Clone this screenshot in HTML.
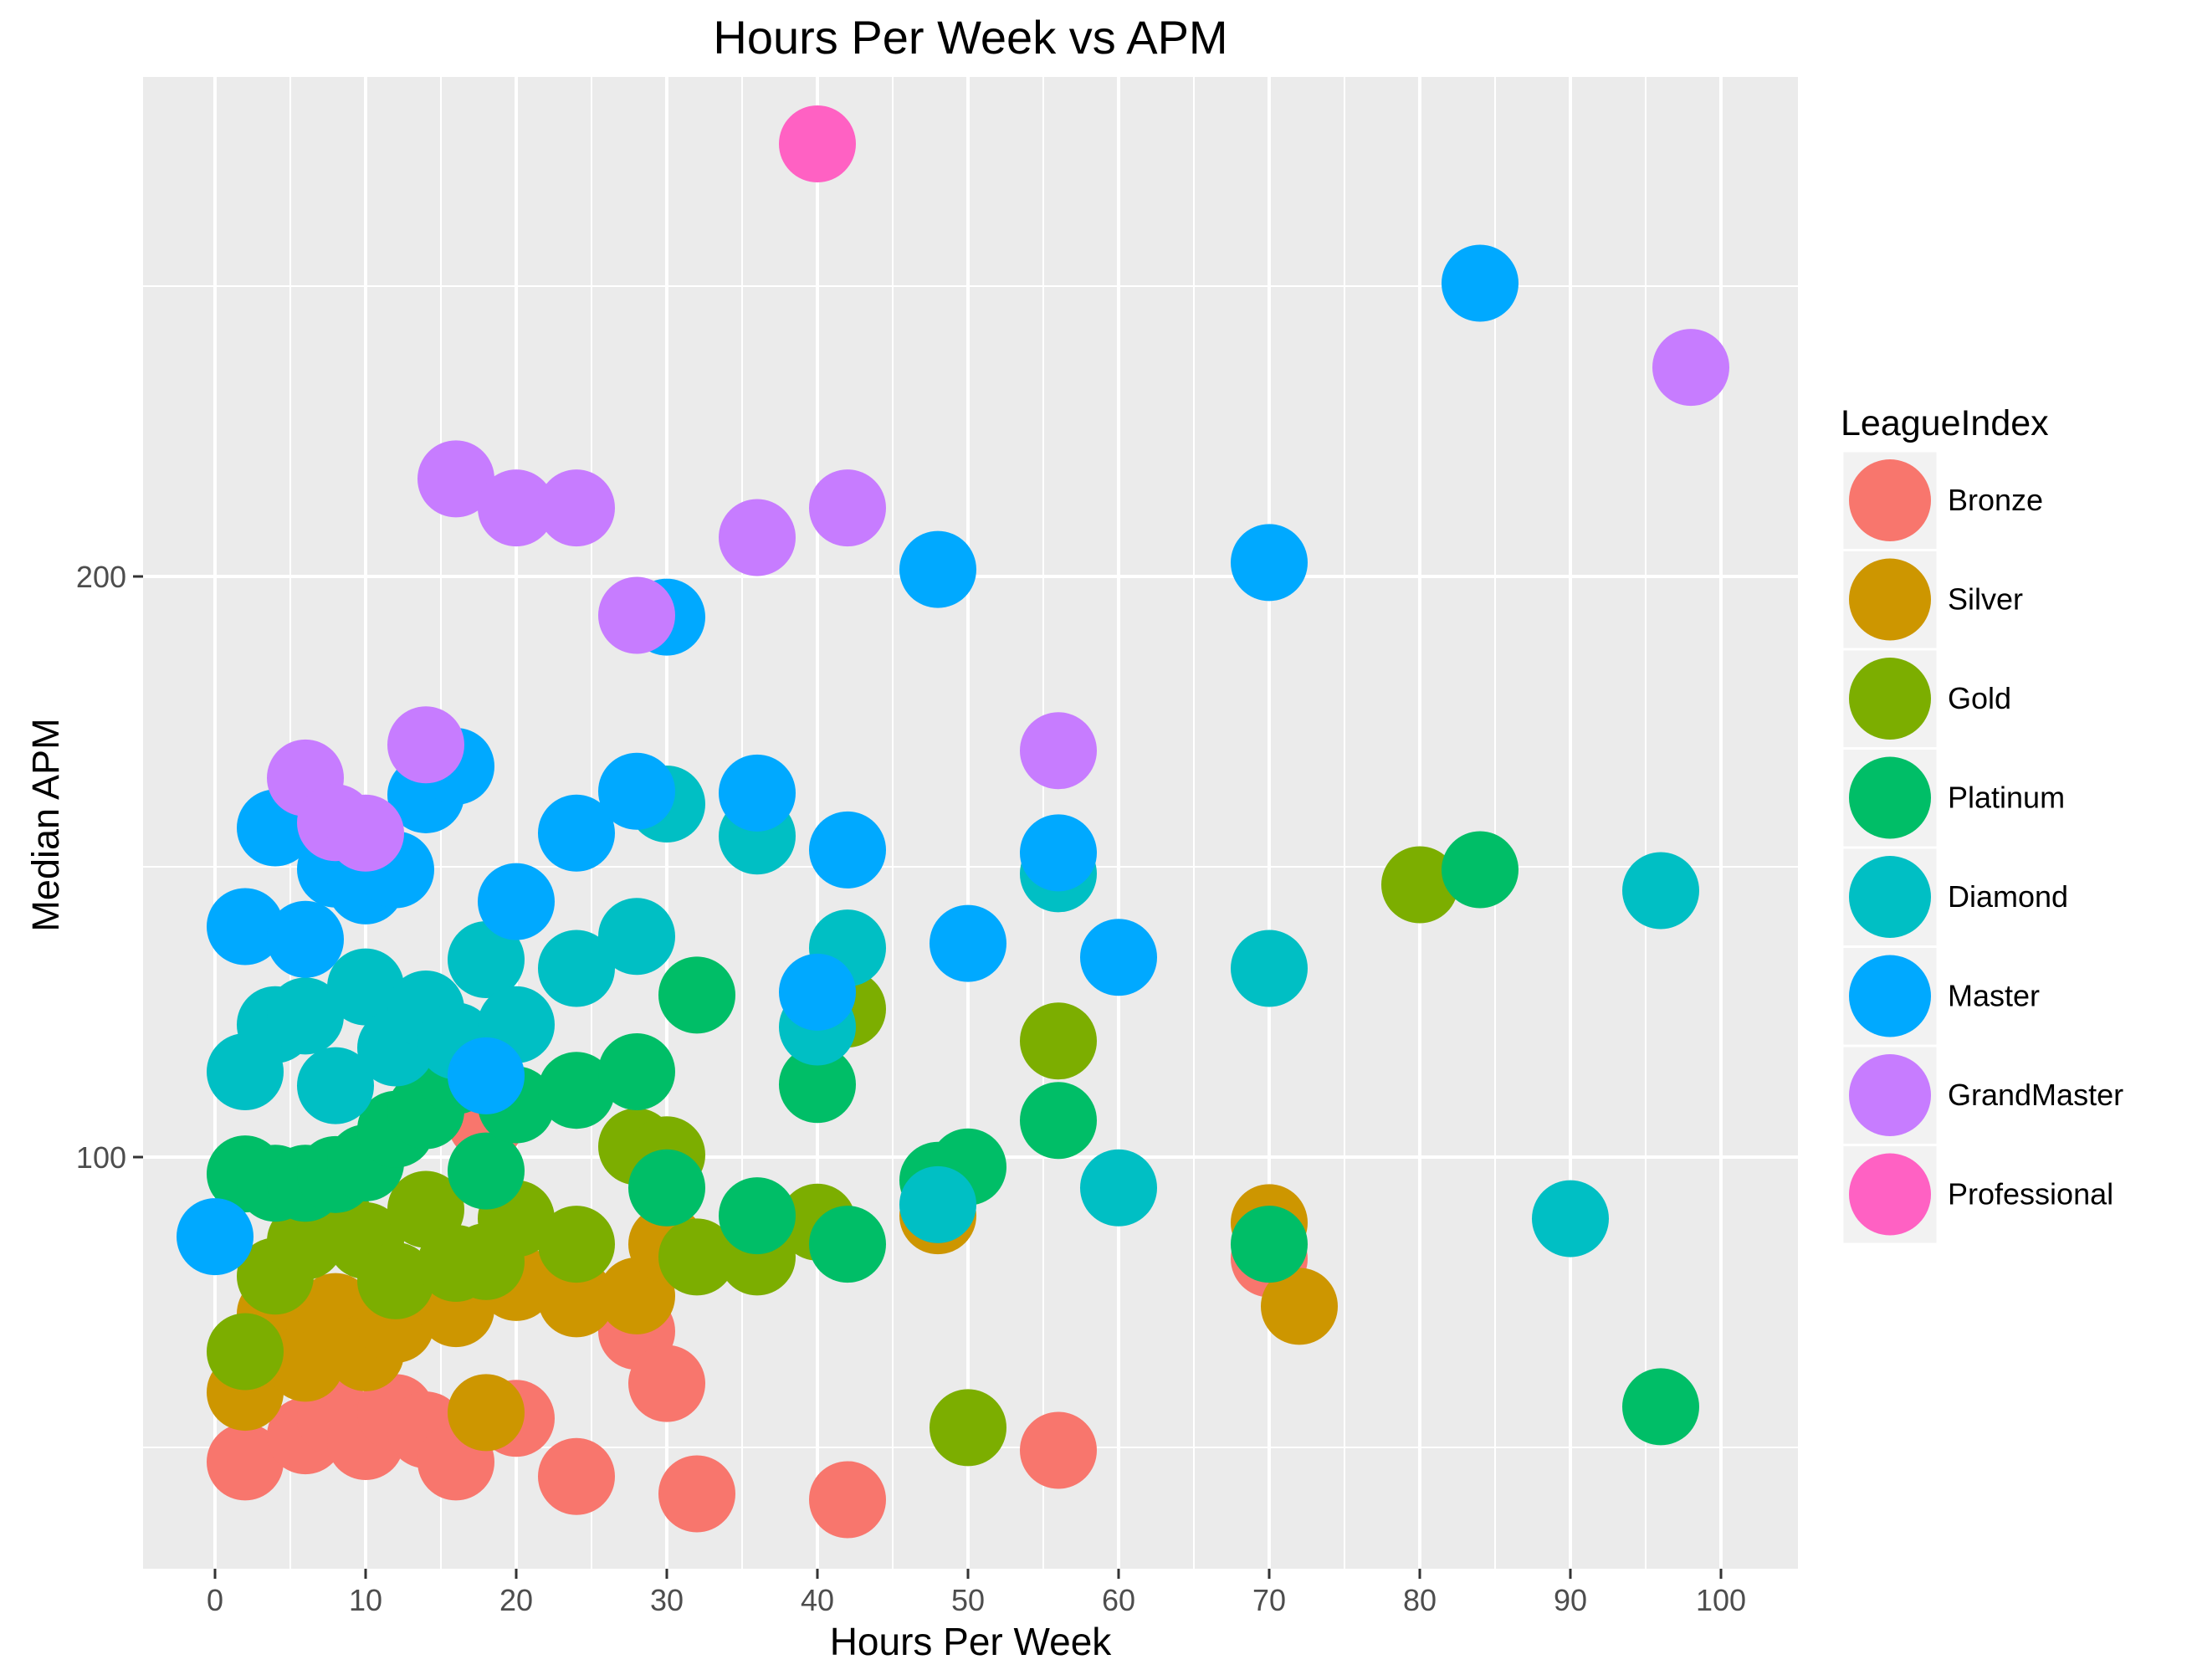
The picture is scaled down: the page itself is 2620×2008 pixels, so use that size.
<!DOCTYPE html>
<html><head><meta charset="utf-8"><style>
html,body{margin:0;padding:0;background:#fff}
svg{display:block;font-family:"Liberation Sans",Arial,sans-serif}
</style></head><body>
<svg id="chart" width="2620" height="2008" viewBox="0 0 2620 2008" xmlns="http://www.w3.org/2000/svg">
<text x="1160" y="64" font-size="56" text-anchor="middle" fill="#000">Hours Per Week vs APM</text>
<rect x="171" y="92" width="1978" height="1783" fill="#EBEBEB"/>
<g id="grid"></g>
<g id="points"></g>
<g id="axes"></g>
<text x="1160" y="1978" font-size="46" text-anchor="middle" fill="#000">Hours Per Week</text>
<text transform="translate(70,986) rotate(-90)" font-size="45" text-anchor="middle" fill="#000">Median APM</text>
<text x="2200" y="520" font-size="43" fill="#000">LeagueIndex</text>
<g id="legend"></g>
</svg>
<script>
const leagues = ["Bronze","Silver","Gold","Platinum","Diamond","Master","GrandMaster","Professional"];
const colors = ["#F8766D","#CD9600","#7CAE00","#00BE67","#00BFC4","#00A9FF","#C77CFF","#FF61C3"];
const bronzeX = [2,6,8,10,12,14,16,18,20,24,28,30,32,42,56,70];
const bronzeY = [47.5,52,55,51,56,53,47.5,106,55,45,70,61,42,41,49.5,82.5];
const silverX = [2,4,6,8,10,12,16,18,20,24,28,30,48,70,72];
const silverY = [59.5,73,64.5,73.4,66.3,71.2,73.9,56,78.4,75.6,76.1,85,89.9,88.7,74.3];
const goldX = [2,4,6,8,10,12,14,16,18,20,24,28,30,32,36,40,42,50,56,80];
const goldY = [66.5,79.5,85.5,89,85.6,78.7,91,81.7,82,89.4,85,101.8,100.4,82.8,82.8,88.8,125.5,53.4,120,146.9];
const platX = [2,4,6,8,10,12,14,16,18,20,24,28,30,32,36,40,42,48,50,56,70,84,96];
const platY = [97.1,95.5,95.5,97,99,104.8,108,114,97.6,109,111.5,114.7,94.7,127.9,89.9,112.5,85,96,98.3,106.3,85,149.5,57];
const diaX = [2,4,6,8,10,12,14,16,18,20,24,28,30,36,40,42,48,56,60,70,90,96];
const diaY = [114.7,122.8,124.3,112.3,129.3,118.8,125.5,120,134,122.8,132.5,138,160.8,155.3,122.4,136,91.8,148.8,94.7,132.5,89.4,145.9];
const masterX = [0,2,4,6,8,10,12,14,16,18,20,24,28,30,36,40,42,48,50,56,60,70,84];
const masterY = [86.3,139.7,156.7,137.5,149.6,146.7,149.5,162.4,167.3,114,144,155.8,163,193,162.7,128.4,152.9,201.2,136.8,152.4,134.4,202.4,250.5];
const gmX = [6,8,10,14,16,20,24,28,36,42,56,98];
const gmY = [165.3,157.6,155.8,171,216.8,211.8,211.8,193.3,206.7,211.8,170,236];
const proX = [40];
const proY = [274.5];
const xTicks = [0,10,20,30,40,50,60,70,80,90,100];
const xMinor = [5,15,25,35,45,55,65,75,85,95];
const yTicks = [100,200];
const yMinor = [50,150,250];

const NS = "http://www.w3.org/2000/svg";
const X0 = 171, X1 = 2149, Y0 = 92, Y1 = 1875;
function sx(v){ return 257 + v * (2057 - 257) / 100; }
function sy(v){ return 1383 - (v - 100) * (1383 - 689) / 100; }
function mk(tag, attrs, parent){
  const e = document.createElementNS(NS, tag);
  for (const k in attrs) e.setAttribute(k, attrs[k]);
  parent.appendChild(e);
  return e;
}
const grid = document.getElementById("grid");
xMinor.forEach(v => {
  const l = mk("line", {x1:sx(v), x2:sx(v), y1:Y0, y2:Y1, stroke:"#fff", "stroke-width":2}, grid);
  
  
});
yMinor.forEach(v => {
  const l = mk("line", {x1:X0, x2:X1, y1:sy(v), y2:sy(v), stroke:"#fff", "stroke-width":2}, grid);
  
  
});
xTicks.forEach(v => {
  const l = mk("line", {x1:sx(v), x2:sx(v), y1:Y0, y2:Y1, stroke:"#fff", "stroke-width":4}, grid);
  
  
});
yTicks.forEach(v => {
  const l = mk("line", {x1:X0, x2:X1, y1:sy(v), y2:sy(v), stroke:"#fff", "stroke-width":4}, grid);
  
  
});
const seriesX = [bronzeX, silverX, goldX, platX, diaX, masterX, gmX, proX];
const seriesY = [bronzeY, silverY, goldY, platY, diaY, masterY, gmY, proY];
const pts = document.getElementById("points");
for (let s = 0; s < leagues.length; s++) {
  const g = mk("g", {}, pts);
  
  
  for (let i = 0; i < seriesX[s].length; i++) {
    const c = mk("circle", {cx:sx(seriesX[s][i]), cy:sy(seriesY[s][i]), r:46, fill:colors[s]}, g);
    
    
  }
}
const axes = document.getElementById("axes");
xTicks.forEach(v => {
  const t = mk("line", {x1:sx(v), x2:sx(v), y1:Y1, y2:Y1+12, stroke:"#333", "stroke-width":3}, axes);
  
  
  const tx = mk("text", {x:sx(v), y:Y1+50, "font-size":36, "text-anchor":"middle", fill:"#4D4D4D"}, axes);
  tx.textContent = String(v);
  
  
});
yTicks.forEach(v => {
  const t = mk("line", {x1:X0-12, x2:X0, y1:sy(v), y2:sy(v), stroke:"#333", "stroke-width":3}, axes);
  
  
  const tx = mk("text", {x:X0-20, y:sy(v)+13, "font-size":36, "text-anchor":"end", fill:"#4D4D4D"}, axes);
  tx.textContent = String(v);
  
  
});
const leg = document.getElementById("legend");
for (let s = 0; s < leagues.length; s++) {
  const y = 539 + s * 118.5;
  const g = mk("g", {}, leg);
  
  
  mk("rect", {x:2202, y:y, width:114, height:118.5, fill:"#F2F2F2", stroke:"#fff", "stroke-width":3}, g);
  mk("circle", {cx:2259, cy:y+59, r:49, fill:colors[s]}, g);
  const t = mk("text", {x:2328, y:y+71, "font-size":36, fill:"#000"}, g);
  t.textContent = leagues[s];
}
</script>
</body></html>
